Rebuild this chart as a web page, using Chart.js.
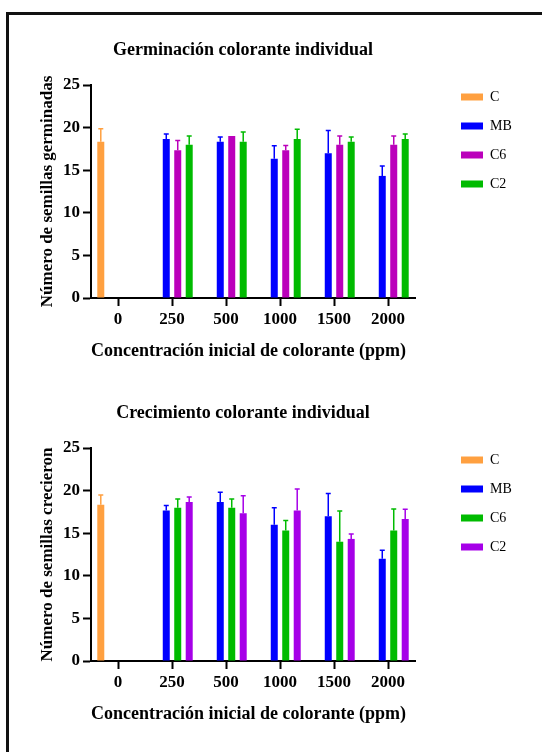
<!DOCTYPE html>
<html>
<head>
<meta charset="utf-8">
<script src="https://cdn.jsdelivr.net/npm/chart.js@4.4.0/dist/chart.umd.min.js"></script>
<style>
  body { margin: 0; width: 542px; height: 752px; background: #fff; position: relative; overflow: hidden; }
  .frame { position: absolute; left: 6px; top: 12px; width: 620px; height: 820px; border-top: 3px solid #111; border-left: 3px solid #111; }
  canvas { position: absolute; left: 0; }
</style>
</head>
<body>
<div class="frame"></div>
<canvas id="germ" width="542" height="363" style="top:0px"></canvas>
<canvas id="crec" width="542" height="363" style="top:363px"></canvas>
<script>
const categories = ['0', '250', '500', '1000', '1500', '2000'];
const xTitle = 'Concentración inicial de colorante (ppm)';

// Germinación colorante individual
const germC = [18.33, null, null, null, null, null];
const germCErr = [1.53, 0, 0, 0, 0, 0];
const germMB = [null, 18.67, 18.33, 16.33, 17, 14.33];
const germMBErr = [0, 0.58, 0.58, 1.53, 2.65, 1.15];
const germC6 = [null, 17.33, 19, 17.33, 18, 18];
const germC6Err = [0, 1.15, 0, 0.58, 1, 1];
const germC2 = [null, 18, 18.33, 18.67, 18.33, 18.67];
const germC2Err = [0, 1, 1.15, 1.15, 0.58, 0.58];

// Crecimiento colorante individual
const crecC = [18.33, null, null, null, null, null];
const crecCErr = [1.15, 0, 0, 0, 0, 0];
const crecMB = [null, 17.67, 18.67, 16, 17, 12];
const crecMBErr = [0, 0.58, 1.15, 2, 2.65, 1];
const crecC6 = [null, 18, 18, 15.33, 14, 15.33];
const crecC6Err = [0, 1, 1, 1.15, 3.6, 2.52];
const crecC2 = [null, 18.67, 17.33, 17.67, 14.33, 16.67];
const crecC2Err = [0, 0.58, 2.08, 2.52, 0.58, 1.15];

const orange = '#FFA040';
const blue = '#0000FF';
const magenta = '#BB00BB';
const green = '#00BB00';
const purple = '#A600E8';

Chart.defaults.font.family = "'Liberation Serif', 'Times New Roman', serif";
Chart.defaults.color = '#000';

function bars(label, data, errors, color) {
  return {
    label: label,
    data: data,
    errors: errors,
    backgroundColor: color,
    borderColor: color,
    borderWidth: 0,
    categoryPercentage: 0.85,
    barPercentage: 0.61
  };
}

// upper error bars with a small cap
const errorBars = {
  id: 'errorBars',
  afterDatasetsDraw(chart) {
    const ctx = chart.ctx;
    const yScale = chart.scales.y;
    chart.data.datasets.forEach((ds, i) => {
      const meta = chart.getDatasetMeta(i);
      meta.data.forEach((bar, j) => {
        const v = ds.data[j];
        const e = ds.errors[j];
        if (v == null || !e) return;
        const top = yScale.getPixelForValue(v + e);
        ctx.save();
        ctx.strokeStyle = ds.backgroundColor;
        ctx.lineWidth = 1.5;
        ctx.beginPath();
        ctx.moveTo(bar.x, bar.y);
        ctx.lineTo(bar.x, top);
        ctx.moveTo(bar.x - 2.5, top);
        ctx.lineTo(bar.x + 2.5, top);
        ctx.stroke();
        ctx.restore();
      });
    });
  }
};

// put the legend and title where the original has them
const placeBoxes = {
  id: 'placeBoxes',
  afterInit(chart) {
    const lg = chart.legend;
    const fit = lg.fit;
    lg.fit = function () {
      fit.call(this);
      this.width = 127;
    };
  },
  afterLayout(chart) {
    const a = chart.chartArea;
    chart.legend.left = a.right + 31;
    chart.legend.top = a.top - 10;
    chart.titleBlock.left -= 10;
    chart.titleBlock.right -= 10;
  }
};

function makeChart(id, title, yTitle, datasets) {
  return new Chart(document.getElementById(id), {
    type: 'bar',
    data: { labels: categories, datasets: datasets },
    plugins: [errorBars, placeBoxes],
    options: {
      responsive: false,
      animation: false,
      layout: { padding: { left: 37, right: 0, top: 10, bottom: 1 } },
      plugins: {
        title: {
          display: true, text: title, fullSize: false,
          font: { size: 18, weight: 'bold' },
          padding: { top: 29.2, bottom: 24.2 }
        },
        legend: {
          position: 'right', align: 'start', fullSize: false,
          labels: { boxWidth: 22, boxHeight: 7, padding: 15, font: { size: 14 } }
        },
        tooltip: { enabled: false }
      },
      scales: {
        x: {
          offset: true,
          grid: { offset: false, drawOnChartArea: false, tickLength: 8, tickWidth: 2, tickColor: '#000' },
          border: { color: '#000', width: 2 },
          ticks: { font: { size: 17, weight: 'bold' }, padding: 3, maxRotation: 0 },
          title: { display: true, text: xTitle, align: 'start', font: { size: 18, weight: 'bold' }, padding: 0 },
          afterFit: s => { s.height = 64; }
        },
        y: {
          min: 0, max: 25,
          grid: { drawOnChartArea: false, tickLength: 8, tickWidth: 2, tickColor: '#000' },
          border: { color: '#000', width: 2 },
          ticks: { stepSize: 5, font: { size: 17, weight: 'bold' }, padding: 3 },
          title: { display: true, text: yTitle, font: { size: 17, weight: 'bold' }, padding: 0 },
          afterFit: s => { s.width = 54; }
        }
      }
    }
  });
}

makeChart('germ', 'Germinación colorante individual', 'Número de semillas germinadas', [
  bars('C', germC, germCErr, orange),
  bars('MB', germMB, germMBErr, blue),
  bars('C6', germC6, germC6Err, magenta),
  bars('C2', germC2, germC2Err, green)
]);

makeChart('crec', 'Crecimiento colorante individual', 'Número de semillas crecieron', [
  bars('C', crecC, crecCErr, orange),
  bars('MB', crecMB, crecMBErr, blue),
  bars('C6', crecC6, crecC6Err, green),
  bars('C2', crecC2, crecC2Err, purple)
]);
</script>
</body>
</html>
